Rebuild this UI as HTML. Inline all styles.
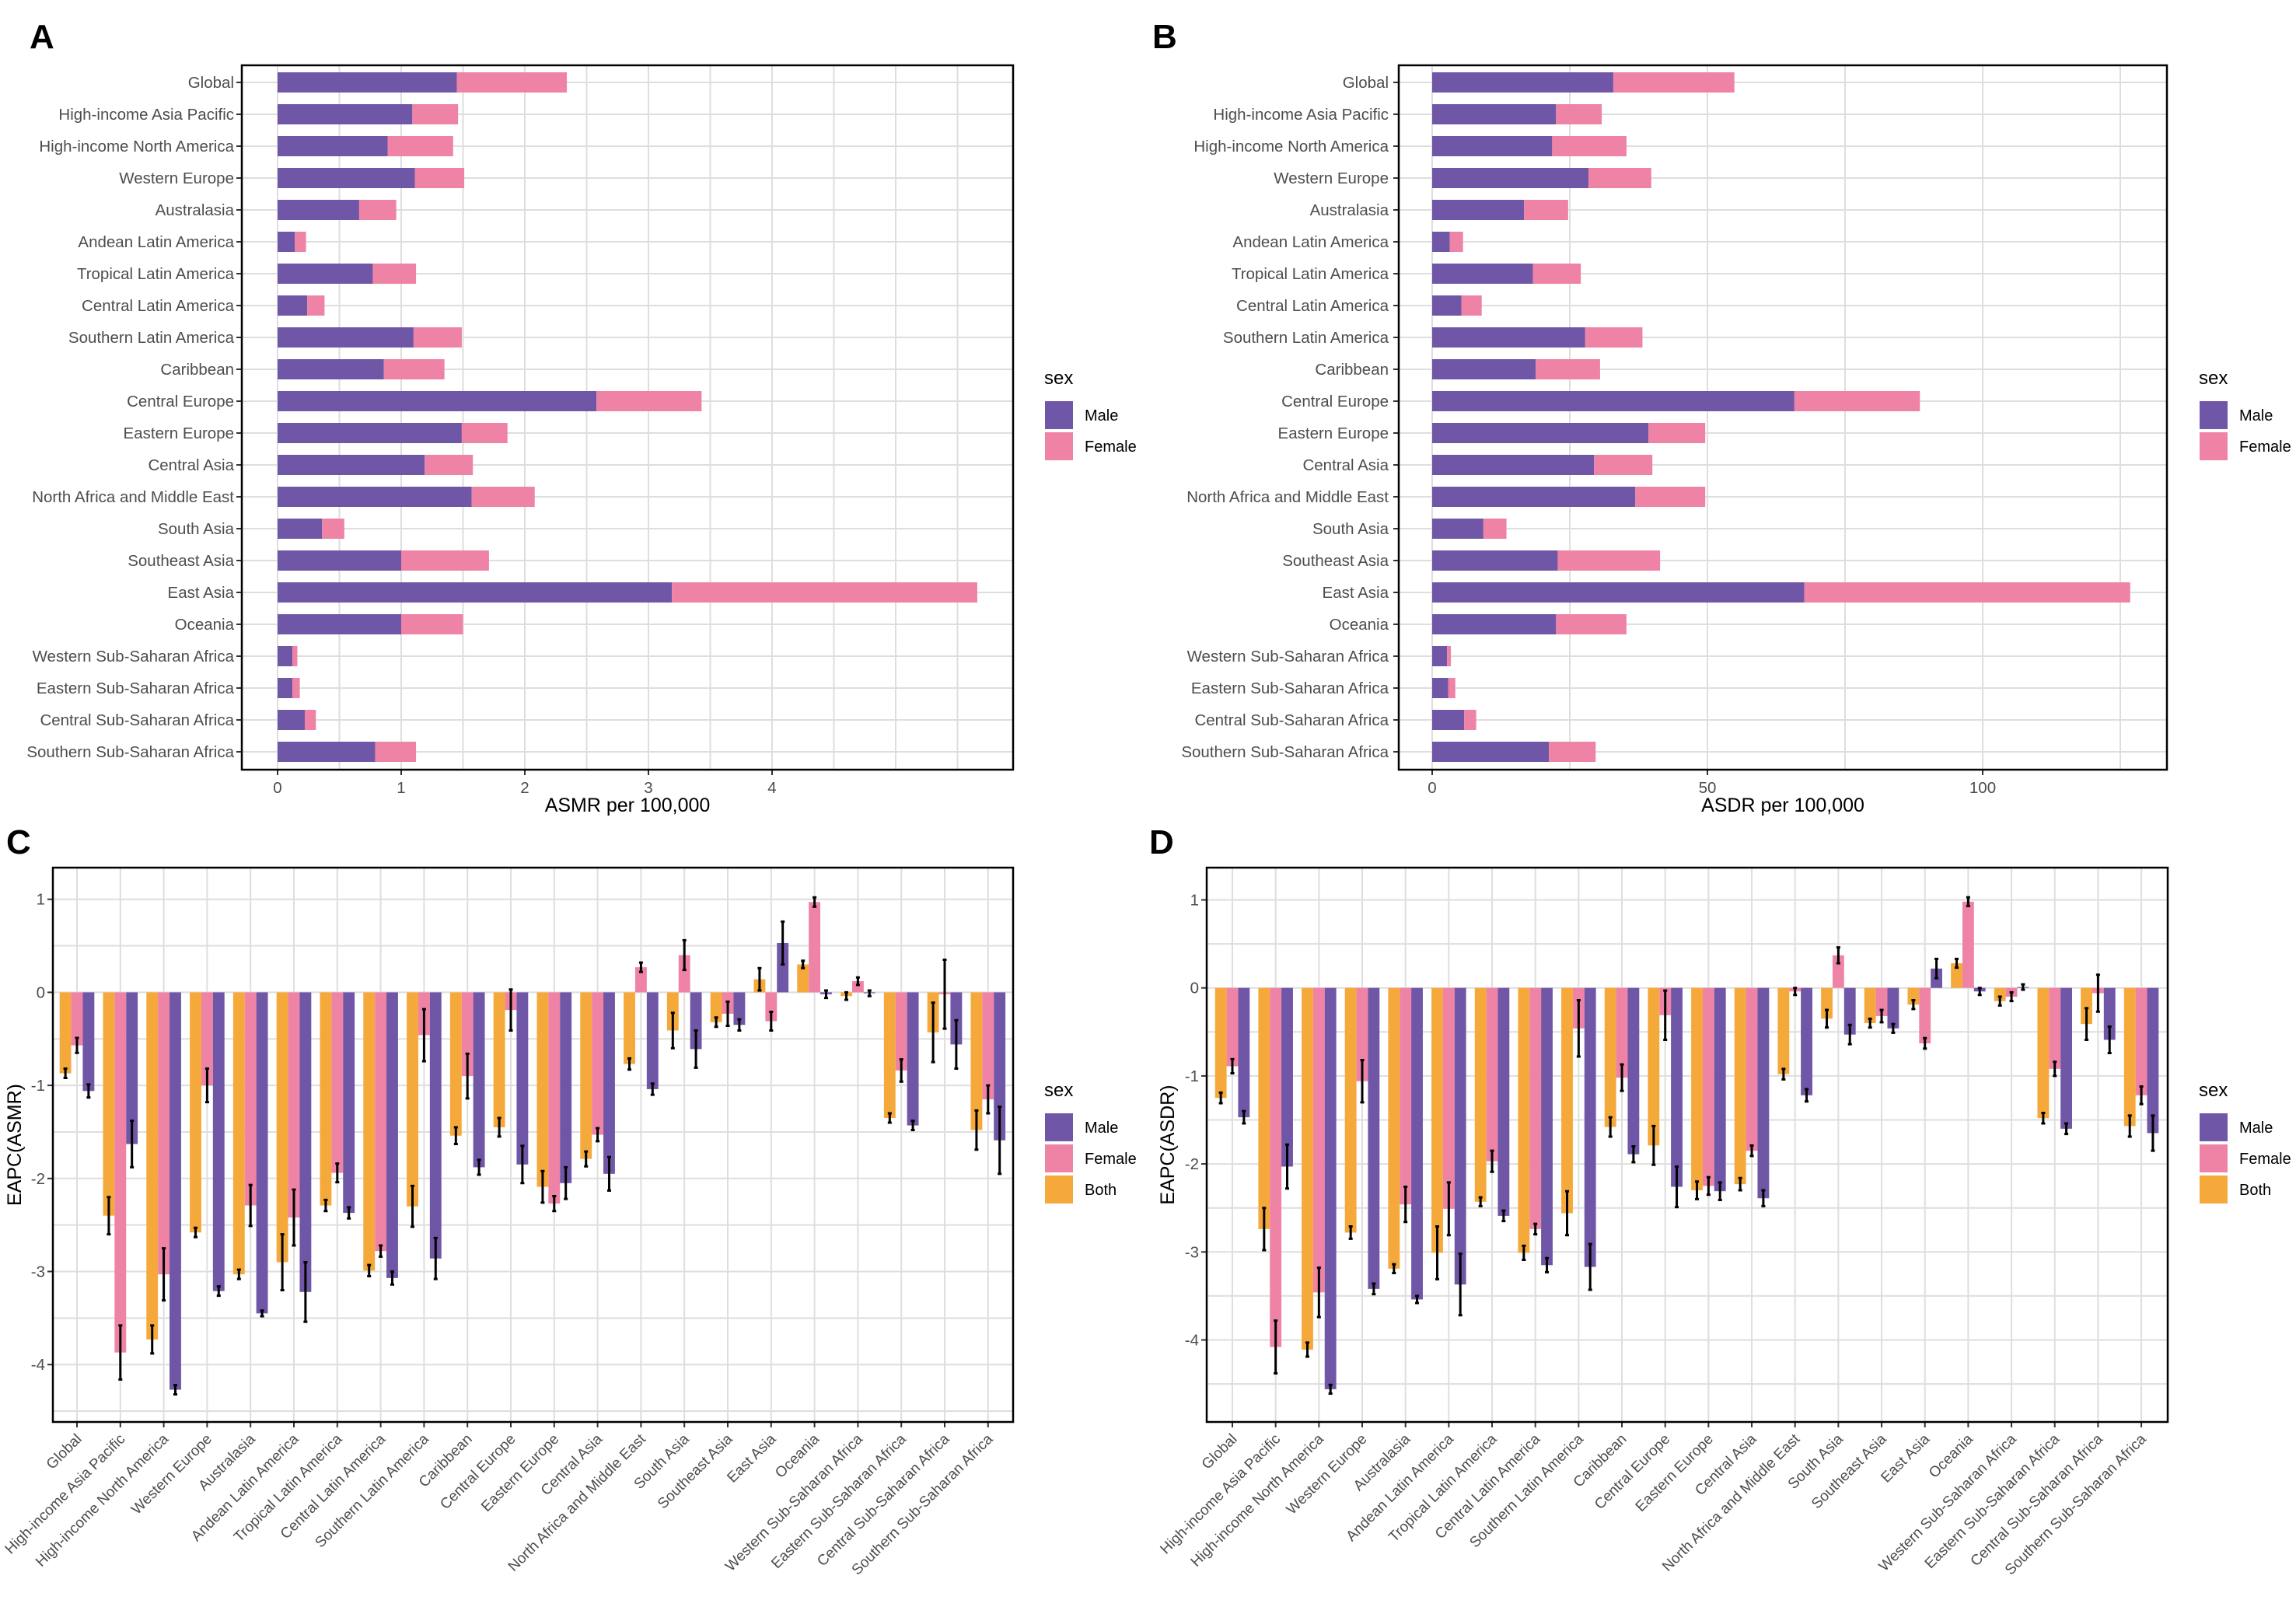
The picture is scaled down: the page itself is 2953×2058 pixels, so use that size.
<!DOCTYPE html>
<html><head><meta charset="utf-8">
<style>
html,body{margin:0;padding:0;background:#fff;}
svg{display:block;font-family:"Liberation Sans",Arial,sans-serif;}
</style></head>
<body>
<svg id="chart" width="2953" height="2058" viewBox="0 0 2953 2058" xmlns="http://www.w3.org/2000/svg"></svg>
<script>
const regions = ["Global","High-income Asia Pacific","High-income North America","Western Europe","Australasia","Andean Latin America","Tropical Latin America","Central Latin America","Southern Latin America","Caribbean","Central Europe","Eastern Europe","Central Asia","North Africa and Middle East","South Asia","Southeast Asia","East Asia","Oceania","Western Sub-Saharan Africa","Eastern Sub-Saharan Africa","Central Sub-Saharan Africa","Southern Sub-Saharan Africa"];
// Panel A: ASMR male and female
const asmrMale   = [1.45,1.09,0.89,1.11,0.66,0.14,0.77,0.24,1.10,0.86,2.58,1.49,1.19,1.57,0.36,1.00,3.19,1.00,0.12,0.12,0.22,0.79];
const asmrFemale = [0.89,0.37,0.53,0.40,0.30,0.09,0.35,0.14,0.39,0.49,0.85,0.37,0.39,0.51,0.18,0.71,2.47,0.50,0.04,0.06,0.09,0.33];
const asmrTicks = [0,1,2,3,4];
// Panel B: ASDR male and female
const asdrMale   = [32.9,22.5,21.8,28.4,16.7,3.2,18.3,5.3,27.8,18.8,65.8,39.3,29.4,36.9,9.3,22.8,67.6,22.5,2.7,2.9,5.8,21.2];
const asdrFemale = [22.0,8.3,13.5,11.4,8.0,2.4,8.7,3.7,10.4,11.7,22.8,10.3,10.6,12.7,4.2,18.6,59.2,12.8,0.7,1.3,2.2,8.5];
const asdrTicks = [0,50,100];
// Panel C: EAPC(ASMR)
const cBoth   = [-0.87,-2.40,-3.73,-2.58,-3.03,-2.90,-2.29,-2.99,-2.30,-1.54,-1.45,-2.09,-1.79,-0.77,-0.41,-0.32,0.14,0.30,-0.04,-1.35,-0.43,-1.48];
const cBothErr= [0.05,0.20,0.15,0.05,0.05,0.30,0.06,0.06,0.22,0.09,0.10,0.17,0.08,0.06,0.19,0.05,0.12,0.04,0.04,0.05,0.32,0.21];
const cFemale = [-0.57,-3.87,-3.03,-1.00,-2.29,-2.42,-1.94,-2.78,-0.46,-0.90,-0.19,-2.27,-1.53,0.27,0.40,-0.23,-0.31,0.97,0.12,-0.84,-0.02,-1.15];
const cFemErr = [0.08,0.29,0.28,0.18,0.22,0.30,0.10,0.06,0.28,0.24,0.22,0.08,0.07,0.05,0.16,0.13,0.10,0.05,0.04,0.12,0.37,0.15];
const cMale   = [-1.06,-1.63,-4.27,-3.21,-3.45,-3.22,-2.37,-3.07,-2.86,-1.88,-1.85,-2.05,-1.95,-1.04,-0.61,-0.35,0.53,-0.02,-0.01,-1.43,-0.56,-1.59];
const cMaleErr= [0.07,0.25,0.05,0.05,0.03,0.32,0.06,0.07,0.22,0.08,0.20,0.17,0.18,0.06,0.20,0.06,0.23,0.04,0.03,0.05,0.26,0.36];
const cTicks = [1,0,-1,-2,-3,-4];
// Panel D: EAPC(ASDR)
const dBoth   = [-1.25,-2.74,-4.11,-2.78,-3.19,-3.01,-2.43,-3.01,-2.56,-1.58,-1.79,-2.30,-2.23,-0.98,-0.35,-0.40,-0.19,0.28,-0.15,-1.48,-0.41,-1.57];
const dBothErr= [0.06,0.24,0.08,0.07,0.05,0.30,0.05,0.08,0.25,0.11,0.22,0.10,0.07,0.06,0.10,0.05,0.05,0.05,0.05,0.06,0.18,0.12];
const dFemale = [-0.89,-4.08,-3.46,-1.06,-2.46,-2.51,-1.97,-2.74,-0.46,-1.02,-0.31,-2.25,-1.85,-0.04,0.37,-0.32,-0.63,0.98,-0.10,-0.92,-0.06,-1.22];
const dFemErr = [0.08,0.30,0.28,0.24,0.20,0.30,0.12,0.06,0.32,0.15,0.28,0.10,0.06,0.04,0.09,0.07,0.06,0.05,0.05,0.08,0.21,0.10];
const dMale   = [-1.47,-2.03,-4.56,-3.42,-3.54,-3.37,-2.59,-3.15,-3.17,-1.89,-2.26,-2.31,-2.39,-1.22,-0.53,-0.46,0.22,-0.04,0.01,-1.60,-0.59,-1.65];
const dMaleErr= [0.07,0.25,0.05,0.06,0.04,0.35,0.06,0.08,0.26,0.09,0.23,0.10,0.09,0.07,0.11,0.05,0.11,0.04,0.03,0.06,0.15,0.20];
const dTicks = [1,0,-1,-2,-3,-4];

const MALE="#7056a6", FEMALE="#ef83a6", BOTH="#f6a93b", GRID="#dedede", TXT="#4d4d4d";
const FS=20.5, FSR=19;
const svg=document.getElementById('chart');
const NS="http://www.w3.org/2000/svg";
function mk(tag,attrs,parent){const e=document.createElementNS(NS,tag);for(const k in attrs)e.setAttribute(k,attrs[k]);(parent||svg).appendChild(e);return e;}
function txt(s,attrs,parent){const e=mk('text',attrs,parent);e.textContent=s;return e;}

[["A",38,62],["B",1482,62],["C",8,1098],["D",1478,1098]].forEach(p=>{
  const t=txt(p[0],{x:p[1],y:p[2],'font-size':44,'font-weight':'bold',fill:'#000'});
  
  
});

function legend(x,y,entries,panel){
  const g=mk('g',{});
  
  
  const t=txt('sex',{x:x,y:y,'font-size':24,fill:'#000'},g);
  
  
  entries.forEach((en,i)=>{
    const r=mk('rect',{x:x+1,y:y+22+i*40,width:36,height:36,fill:en[1]},g);
    
    
    const l=txt(en[0],{x:x+52,y:y+47+i*40,'font-size':20,fill:'#000'},g);
    
    
  });
}

function hbarPanel(opts){
  const {L,R,T,B,x0,k,male,female,ticks,grid,title,panel,labelX}=opts;
  const X=v=>x0+v*k;
  const g=mk('g',{});
  
  
  const bg=mk('rect',{x:L,y:T,width:R-L,height:B-T,fill:'#fff'},g);
  
  
  for(let v=0;X(v)<R;v+=grid){
    const l=mk('line',{x1:X(v),x2:X(v),y1:T,y2:B,stroke:GRID,'stroke-width':2},g);
    
    
  }
  const Y=i=>106+i*41;
  regions.forEach((r,i)=>{
    const l=mk('line',{x1:L,x2:R,y1:Y(i),y2:Y(i),stroke:GRID,'stroke-width':2},g);
    
    
  });
  regions.forEach((r,i)=>{
    const y=Y(i)-13;
    const bm=mk('rect',{x:X(0),y:y,width:X(male[i])-X(0),height:26,fill:MALE},g);
    
    
    const bf=mk('rect',{x:X(male[i]),y:y,width:X(male[i]+female[i])-X(male[i]),height:26,fill:FEMALE},g);
    
    
    const tk=mk('line',{x1:L-7,x2:L,y1:Y(i),y2:Y(i),stroke:'#333','stroke-width':2},g);
    
    
    const lb=txt(r,{x:labelX,y:Y(i)+7,'font-size':FS,fill:TXT,'text-anchor':'end'},g);
    
    
  });
  ticks.forEach(v=>{
    const tk=mk('line',{x1:X(v),x2:X(v),y1:B,y2:B+7,stroke:'#333','stroke-width':2},g);
    
    
    const lb=txt(String(v),{x:X(v),y:B+30,'font-size':FS,fill:TXT,'text-anchor':'middle'},g);
    
    
  });
  const fr=mk('rect',{x:L,y:T,width:R-L,height:B-T,fill:'none',stroke:'#000','stroke-width':2.5},g);
  
  
  const at=txt(title,{x:(L+R)/2,y:1044,'font-size':25,fill:'#000','text-anchor':'middle'},g);
  
  
}

hbarPanel({L:311,R:1303,T:84,B:990,x0:357,k:159,male:asmrMale,female:asmrFemale,ticks:asmrTicks,grid:0.5,title:'ASMR per 100,000',panel:'a',labelX:301});
legend(1343,494,[["Male",MALE],["Female",FEMALE]],'a');
hbarPanel({L:1799,R:2787,T:84,B:990,x0:1842,k:7.08,male:asdrMale,female:asdrFemale,ticks:asdrTicks,grid:25,title:'ASDR per 100,000',panel:'b',labelX:1786});
legend(2828,494,[["Male",MALE],["Female",FEMALE]],'b');

function vbarPanel(opts){
  const {L,R,T,B,cx0,dx,y0,k,both,bothErr,fem,femErr,male,maleErr,ticks,title,panel,tickX,titleX}=opts;
  const Xc=i=>cx0+i*dx;
  const Y=v=>y0-v*k;
  const g=mk('g',{});
  
  
  for(let v=1;v>=-4.5;v-=0.5){
    const l=mk('line',{x1:L,x2:R,y1:Y(v),y2:Y(v),stroke:GRID,'stroke-width':2},g);
    
    
  }
  regions.forEach((r,i)=>{
    const l=mk('line',{x1:Xc(i),x2:Xc(i),y1:T,y2:B,stroke:GRID,'stroke-width':2},g);
    
    
  });
  const bw=dx*0.8/3;
  const series=[[both,bothErr,BOTH,'both'],[fem,femErr,FEMALE,'female'],[male,maleErr,MALE,'male']];
  regions.forEach((r,i)=>{
    series.forEach((s,j)=>{
      const v=s[0][i];
      const x=Xc(i)+(j-1.5)*bw;
      const b=mk('rect',{x:x,y:Math.min(Y(v),Y(0)),width:bw,height:Math.abs(Y(v)-Y(0)),fill:s[2]},g);
      
      
    });
  });
  regions.forEach((r,i)=>{
    series.forEach((s,j)=>{
      const v=s[0][i], e=s[1][i];
      const cx=Xc(i)+(j-1)*bw;
      const eb=mk('path',{d:`M${cx},${Y(v+e)}V${Y(v-e)}M${cx-2.5},${Y(v+e)}H${cx+2.5}M${cx-2.5},${Y(v-e)}H${cx+2.5}`,stroke:'#000','stroke-width':3,fill:'none'},g);
      
      
    });
    const tk=mk('line',{x1:Xc(i),x2:Xc(i),y1:B,y2:B+7,stroke:'#333','stroke-width':2},g);
    
    
    const lx=Xc(i)+7, ly=B+23;
    const lb=txt(r,{x:lx,y:ly,'font-size':FSR,fill:TXT,'text-anchor':'end',transform:`rotate(-45 ${lx} ${ly})`},g);
    
    
  });
  ticks.forEach(v=>{
    const tk=mk('line',{x1:L-7,x2:L,y1:Y(v),y2:Y(v),stroke:'#333','stroke-width':2},g);
    
    
    const lb=txt(String(v),{x:tickX,y:Y(v)+7,'font-size':FS,fill:TXT,'text-anchor':'end'},g);
    
    
  });
  const fr=mk('rect',{x:L,y:T,width:R-L,height:B-T,fill:'none',stroke:'#000','stroke-width':2.5},g);
  
  
  const ty=(T+B)/2;
  const at=txt(title,{x:titleX,y:ty,'font-size':25,fill:'#000','text-anchor':'middle',transform:`rotate(-90 ${titleX} ${ty})`},g);
  
  
}

vbarPanel({L:68,R:1303,T:1116,B:1829,cx0:99,dx:55.8,y0:1276.4,k:119.7,both:cBoth,bothErr:cBothErr,fem:cFemale,femErr:cFemErr,male:cMale,maleErr:cMaleErr,ticks:cTicks,title:'EAPC(ASMR)',panel:'c',tickX:58,titleX:27});
legend(1343,1410,[["Male",MALE],["Female",FEMALE],["Both",BOTH]],'c');
vbarPanel({L:1552,R:2788,T:1116,B:1829,cx0:1585,dx:55.67,y0:1270.7,k:113.2,both:dBoth,bothErr:dBothErr,fem:dFemale,femErr:dFemErr,male:dMale,maleErr:dMaleErr,ticks:dTicks,title:'EAPC(ASDR)',panel:'d',tickX:1542,titleX:1510});
legend(2828,1410,[["Male",MALE],["Female",FEMALE],["Both",BOTH]],'d');
</script>
</body></html>
